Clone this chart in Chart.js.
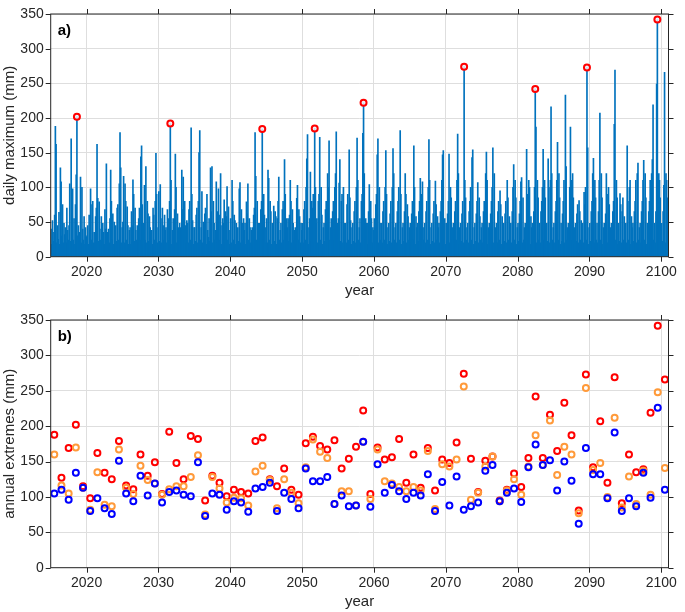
<!DOCTYPE html>
<html><head><meta charset="utf-8">
<script src="https://cdn.jsdelivr.net/npm/chart.js@4.4.1/dist/chart.umd.min.js"></script>
<style>
html,body{margin:0;padding:0;background:#fff;}
#wrap{position:relative;width:685px;height:612px;overflow:hidden;}
.p{position:absolute;left:0;width:685px;height:306px;}
</style></head><body>
<div id="wrap">
<div class="p" style="top:0"><canvas id="ca" width="685" height="306"></canvas></div>
<div class="p" style="top:306px"><canvas id="cb" width="685" height="306"></canvas></div>
</div>
<script>
// ---------------- data ----------------
const years = [2015,2016,2017,2018,2019,2020,2021,2022,2023,2024,2025,2026,2027,2028,2029,
2030,2031,2032,2033,2034,2035,2036,2037,2038,2039,2040,2041,2042,2043,2044,2045,2046,2047,2048,2049,
2050,2051,2052,2053,2054,2055,2056,2057,2058,2059,2060,2061,2062,2063,2064,2065,2066,2067,2068,2069,
2070,2071,2072,2073,2074,2075,2076,2077,2078,2079,2080,2081,2082,2083,2084,2085,2086,2087,2088,2089,
2090,2091,2092,2093,2094,2095,2096,2097,2098,2099,2100];

// annual extremes (panel b), mm
const redMax = [188,127,169,202,115,98,162,134,125,179,116,111,160,130,149,
104,192,148,125,186,182,95,130,120,101,110,107,105,179,184,125,115,140,110,103,
176,185,172,167,180,140,154,171,222,104,170,153,156,182,120,160,113,169,109,153,
148,177,274,154,107,151,157,95,110,133,114,155,242,155,216,165,233,187,81,273,
142,207,120,269,91,160,135,139,219,342,266];
const orangeMax = [160,116,105,170,113,82,135,89,87,167,113,104,144,124,119,
103,111,115,115,128,159,75,128,112,92,99,98,88,136,144,124,84,125,106,91,
142,181,164,155,90,108,108,88,178,97,167,122,119,114,108,114,109,165,83,146,
143,153,256,96,106,143,157,94,109,125,103,143,187,145,208,131,171,160,77,254,
138,148,100,212,85,129,90,137,103,248,141];
const blueMax = [105,110,96,134,113,80,98,84,76,151,105,94,130,102,119,
92,107,109,103,101,149,73,105,103,82,94,92,79,112,114,120,80,106,97,84,
140,122,122,128,90,102,87,88,178,86,146,106,117,108,97,106,102,132,80,121,
88,129,82,87,92,137,145,94,106,112,93,142,174,145,152,109,150,123,62,169,
132,132,98,191,80,98,87,134,99,226,110];

// daily maximum (panel a): spike heights (mm) read in order through each year, 10 per year
const dailySpikes = [
[40,18,52,22,35,60,188,162,20,45],[25,64,18,128,108,30,75,20,48,32],[42,20,70,38,24,45,105,22,170,40],
[98,24,55,18,75,118,202,30,45,22],[35,115,20,100,40,24,58,18,42,28],[30,45,18,60,38,98,24,75,80,20],
[35,20,58,70,162,84,22,79,40,24],[58,22,48,35,18,68,40,134,24,35],[40,20,55,125,80,24,62,18,50,38],
[45,22,70,75,24,105,179,128,20,42],[50,116,20,105,80,24,72,45,18,38],[42,18,65,45,111,90,22,70,38,24],
[45,20,55,70,24,144,160,75,18,48],[103,24,130,20,80,62,22,58,42,28],[38,18,70,60,24,80,149,90,20,42],
[94,22,104,55,20,70,45,24,60,38],[42,20,68,55,24,80,192,110,18,38],[55,22,68,148,100,20,62,42,24,48],
[42,18,125,68,115,24,80,45,20,52],[48,20,68,80,24,186,90,52,18,42],[42,22,60,70,20,80,150,182,24,42],
[94,20,50,24,62,70,18,90,38,28],[55,22,128,65,130,20,80,48,24,38],[108,20,65,98,24,60,120,18,45,55],
[48,82,20,65,58,101,24,72,18,38],[55,20,110,80,24,60,52,18,48,38],[42,22,98,107,20,68,48,24,55,38],
[48,18,79,62,105,24,55,42,20,38],[42,20,60,70,179,116,24,80,18,48],[48,22,68,80,184,24,90,60,20,42],
[55,20,125,113,24,80,65,18,48,38],[73,22,65,58,18,55,80,115,24,38],[48,20,68,80,24,140,90,18,55,42],
[55,22,60,110,80,20,68,48,24,38],[42,18,84,103,24,68,58,20,48,38],[48,20,68,80,24,100,141,176,18,42],
[55,122,22,80,70,90,20,185,100,48],[55,20,80,90,172,24,100,60,18,42],[48,22,68,80,20,120,100,167,24,42],
[55,20,65,80,24,100,120,180,18,48],[55,106,140,22,80,90,20,100,48,24],[48,20,75,90,24,154,85,52,18,42],
[48,22,65,80,20,100,171,110,24,42],[55,20,80,90,178,222,120,24,55,48],[48,18,65,104,24,80,55,20,42,38],
[55,22,75,90,147,170,20,100,48,24],[48,20,65,80,24,100,153,90,18,42],[48,22,62,80,20,100,156,120,24,42],
[48,20,65,80,100,24,182,90,18,42],[48,22,65,120,90,20,75,58,24,42],[48,20,62,80,24,160,100,18,58,42],
[48,22,65,80,113,20,90,108,24,42],[48,20,65,80,24,100,169,110,18,42],[48,22,62,80,20,109,75,24,58,42],
[48,20,65,80,110,147,153,24,55,18],[48,22,62,80,148,20,100,85,24,42],[48,20,65,80,24,110,177,120,18,42],
[48,22,62,80,20,274,110,85,24,42],[48,20,65,80,100,24,143,154,18,42],[48,22,62,80,107,20,85,58,24,42],
[48,20,65,80,24,120,151,110,18,42],[48,22,62,80,100,157,20,120,24,42],[48,20,65,80,24,95,75,18,58,42],
[48,22,62,80,20,110,85,24,58,42],[48,20,65,100,133,24,110,85,18,42],[48,22,62,80,108,114,20,85,24,42],
[48,20,155,90,24,110,100,18,58,42],[48,22,65,100,242,187,20,110,85,24],[48,20,65,80,100,155,24,110,85,18],
[48,22,141,100,20,110,216,120,24,42],[48,20,65,80,110,165,24,120,85,18],[48,22,62,80,110,20,233,130,24,42],
[48,20,100,187,110,24,120,85,18,42],[48,22,62,75,20,81,65,24,52,42],[48,20,93,75,100,24,273,157,18,42],
[48,22,65,80,120,142,20,110,85,24],[48,20,65,110,207,24,120,85,18,42],[48,22,62,120,90,20,100,75,24,42],
[48,20,65,80,191,269,24,110,85,18],[48,22,91,75,20,65,85,24,58,42],[48,20,160,80,24,100,110,18,58,42],
[48,22,65,80,110,20,120,135,24,42],[48,20,65,80,110,139,24,120,85,18],[48,22,65,80,110,20,120,140,219,24],
[48,20,65,249,342,24,120,110,85,18],[48,22,65,103,266,20,120,110,85,42]
];
// years whose maximum is circled in panel a
const markedYears = [2018,2031,2044,2051,2058,2072,2082,2089,2099];

const xTicks = [2020,2030,2040,2050,2060,2070,2080,2090,2100];
const yTicks = [0,50,100,150,200,250,300,350];

// ---------------- build ----------------
const FONT = '"Liberation Sans", Arial, Helvetica, sans-serif';
const TXT = '#262626';
const dailyPts = [];
dailySpikes.forEach((arr, yi) => {
  arr.forEach((v, i) => dailyPts.push({x: years[yi] + (i + 0.5) / arr.length, y: v}));
});
const circlePts = markedYears.map(yr => {
  const arr = dailySpikes[years.indexOf(yr)];
  let k = 0; arr.forEach((v, i) => { if (v > arr[k]) k = i; });
  return {x: yr + (k + 0.5) / arr.length, y: arr[k]};
});
const toPts = a => a.map((v, i) => ({x: years[i] + 0.5, y: v}));

function framePlugin(label) {
  return {
    id: 'frame',
    afterDatasetsDraw(chart) {
      const {ctx, chartArea: a, scales: {x, y}} = chart;
      ctx.save();
      ctx.strokeStyle = TXT; ctx.lineWidth = 1;
      ctx.strokeRect(a.left, a.top, a.right - a.left, a.bottom - a.top);
      ctx.beginPath();
      xTicks.forEach(v => {
        const px = Math.round(x.getPixelForValue(v)) + 0.5;
        ctx.moveTo(px, a.bottom); ctx.lineTo(px, a.bottom + 5);
        ctx.moveTo(px, a.top); ctx.lineTo(px, a.top - 5);
      });
      yTicks.forEach(v => {
        const py = Math.round(y.getPixelForValue(v)) + 0.5;
        ctx.moveTo(a.left, py); ctx.lineTo(a.left - 5, py);
        ctx.moveTo(a.right, py); ctx.lineTo(a.right + 5, py);
      });
      ctx.stroke();
      ctx.font = 'bold 15px ' + FONT; ctx.fillStyle = '#000';
      ctx.textBaseline = 'middle'; ctx.textAlign = 'left';
      ctx.fillText(label, a.left + 7, a.top + 16.5);
      ctx.restore();
    }
  };
}

function scalesFor(H, bottomLocal, yTitle, titlePadB) {
  return {
    x: {
      type: 'linear', min: 2015, max: 2101, offset: false,
      grid: {offset: false, color: '#dedede', lineWidth: 1, drawTicks: false},
      border: {display: false},
      afterBuildTicks: s => { s.ticks = xTicks.map(v => ({value: v})); },
      afterFit: s => { s.height = H - bottomLocal; },
      ticks: {padding: 8, color: TXT, font: {family: FONT, size: 14, lineHeight: 1},
              maxRotation: 0, autoSkip: false, callback: v => String(v)},
      title: {display: true, text: 'year', color: TXT, font: {family: FONT, size: 15},
              padding: {top: 0, bottom: titlePadB}}
    },
    y: {
      min: 0, max: 350,
      grid: {color: '#dedede', lineWidth: 1, drawTicks: false},
      border: {display: false},
      afterBuildTicks: s => { s.ticks = yTicks.map(v => ({value: v})); },
      afterFit: s => { s.width = 50.7; },
      ticks: {padding: 7, color: TXT, font: {family: FONT, size: 14, lineHeight: 1},
              autoSkip: false, callback: v => String(v)},
      title: {display: true, text: yTitle, color: TXT, font: {family: FONT, size: 15},
              padding: {top: 1, bottom: 0}}
    }
  };
}

const common = {
  responsive: false, animation: false,
  plugins: {legend: {display: false}, tooltip: {enabled: false}}
};

const PR = 3, PB = 2;
new Chart(document.getElementById('ca'), {
  type: 'bar',
  data: {datasets: [
    {type: 'scatter', data: circlePts, pointRadius: PR, pointBorderWidth: PB,
     pointBorderColor: '#ff0000', pointBackgroundColor: 'rgba(235,242,250,0.85)', order: 0},
    {type: 'bar', data: dailyPts, backgroundColor: '#0072BD', borderWidth: 0,
     barThickness: 1, grouped: false, order: 1}
  ]},
  options: Object.assign({}, common, {
    layout: {padding: {top: 7.7, right: 9.3, left: 0, bottom: 0}},
    scales: scalesFor(306, 256.7, 'daily maximum (mm)', 6)
  }),
  plugins: [framePlugin('a)')]
});

new Chart(document.getElementById('cb'), {
  type: 'scatter',
  data: {datasets: [
    {data: toPts(blueMax), pointRadius: PR, pointBorderWidth: PB,
     pointBorderColor: '#0000ff', pointBackgroundColor: 'rgba(255,255,255,0)', order: 1},
    {data: toPts(orangeMax), pointRadius: PR, pointBorderWidth: PB,
     pointBorderColor: '#ff9a3a', pointBackgroundColor: 'rgba(255,255,255,0)', order: 2},
    {data: toPts(redMax), pointRadius: PR, pointBorderWidth: PB,
     pointBorderColor: '#ff0000', pointBackgroundColor: 'rgba(255,255,255,0)', order: 3}
  ]},
  options: Object.assign({}, common, {
    layout: {padding: {top: 11.7, right: 9.3, left: 0, bottom: 0}},
    scales: scalesFor(306, 261.7, 'annual extremes (mm)', 1)
  }),
  plugins: [framePlugin('b)')]
});
</script>
</body></html>
